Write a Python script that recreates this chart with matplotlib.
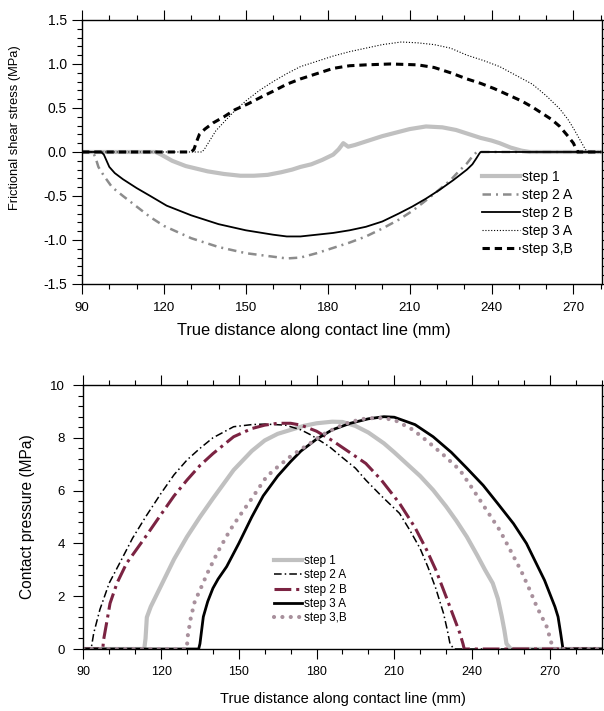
import matplotlib

matplotlib.use("Agg")
import matplotlib.pyplot as plt
from matplotlib.ticker import MultipleLocator, FormatStrFormatter

plt.rcParams["font.family"] = ["Liberation Sans", "DejaVu Sans"]

# ---- top panel: frictional shear stress (MPa) vs distance (mm) ----
t_step1_x = [90, 117, 119, 123, 128, 132, 136, 142, 148, 153, 158, 163, 167, 170, 174, 178, 182, 184,
             185.7, 187.5, 190, 195, 200, 205, 210, 216, 222, 227, 231, 236, 240, 243, 247, 251, 254, 280]
t_step1_y = [0, 0, -0.03, -0.1, -0.16, -0.19, -0.22, -0.25, -0.27, -0.27, -0.26, -0.23, -0.2, -0.17,
             -0.14, -0.09, -0.03, 0.03, 0.1, 0.06, 0.08, 0.13, 0.18, 0.22, 0.26, 0.29, 0.28, 0.25, 0.21,
             0.16, 0.13, 0.1, 0.05, 0.015, 0, 0]

t_step2a_x = [90, 94, 95, 96, 98, 101, 105, 110, 115, 120, 130, 140, 150, 160, 165, 170, 176, 182, 188,
              194, 200, 206, 211, 216, 220, 225, 228, 231, 233, 234.6, 280]
t_step2a_y = [0, 0, -0.07, -0.17, -0.27, -0.4, -0.5, -0.62, -0.74, -0.84, -0.98, -1.08, -1.15, -1.19,
              -1.21, -1.2, -1.15, -1.09, -1.03, -0.96, -0.87, -0.77, -0.67, -0.55, -0.45, -0.32, -0.22,
              -0.13, -0.05, 0, 0]

t_step2b_x = [90, 97, 98, 99, 100, 102, 105, 110, 115, 121, 130, 140, 150, 160, 165, 170, 176, 182, 188,
              194, 200, 206, 211, 216, 221, 226, 231, 233, 234.5, 235.5, 236, 280]
t_step2b_y = [0, 0, -0.03, -0.1, -0.17, -0.24, -0.31, -0.41, -0.5, -0.61, -0.72, -0.82, -0.89, -0.94,
              -0.96, -0.96, -0.94, -0.92, -0.89, -0.85, -0.79, -0.7, -0.62, -0.53, -0.43, -0.32, -0.2,
              -0.14, -0.07, -0.02, 0, 0]

t_step3a_x = [90, 134, 135, 137, 139, 142, 146, 150, 155, 160, 165, 170, 176, 182, 188, 194, 200, 207,
              213, 219, 225, 231, 237, 243, 249, 255, 260, 265, 268, 270, 272, 274, 275, 280]
t_step3a_y = [0, 0, 0.04, 0.14, 0.24, 0.34, 0.47, 0.58, 0.7, 0.8, 0.89, 0.97, 1.03, 1.09, 1.14, 1.18,
              1.22, 1.25, 1.24, 1.22, 1.18, 1.1, 1.04, 0.97, 0.87, 0.77, 0.64, 0.49, 0.37, 0.27, 0.16,
              0.05, 0, 0]

t_step3b_x = [90, 130, 131, 132, 133, 135, 138, 142, 146, 151, 156, 160, 165, 170, 176, 182, 188, 194,
              203, 213, 219, 225, 231, 236, 241, 246, 251, 255, 259, 262, 265, 268, 270, 271.5, 280]
t_step3b_y = [0, 0, 0.03, 0.12, 0.2, 0.26, 0.33, 0.4, 0.48, 0.55, 0.63, 0.69, 0.77, 0.83, 0.89, 0.95,
              0.98, 0.99, 1.0, 0.99, 0.96, 0.9, 0.83, 0.78, 0.72, 0.65, 0.58, 0.51, 0.43, 0.37, 0.29,
              0.18, 0.1, 0, 0]

# ---- bottom panel: contact pressure (MPa) vs distance (mm) ----
b_step1_x = [90, 113.5, 114, 114.5, 116, 118, 121, 125, 130, 135, 140, 148, 155, 160, 165, 170, 175,
             180, 186, 190, 195, 200, 206, 210, 215, 220, 225, 230, 234, 238, 242, 245, 248, 250, 251.5,
             252.5, 253.3, 255, 290]
b_step1_y = [0, 0, 0.4, 1.2, 1.6, 2.0, 2.6, 3.4, 4.25, 5.0, 5.7, 6.78, 7.5, 7.9, 8.15, 8.3, 8.45, 8.55,
             8.61, 8.6, 8.45, 8.2, 7.79, 7.45, 7.0, 6.55, 6.02, 5.4, 4.85, 4.25, 3.55, 3.0, 2.49, 1.9,
             1.22, 0.7, 0.2, 0, 0]

b_step2a_x = [90, 93, 94, 96.4, 100, 104, 109, 114, 120, 125, 130, 135, 140, 148, 155, 160, 168, 174,
              178, 182, 185, 190, 195, 199, 205, 212, 216, 220, 223, 226, 229, 230.5, 231.5, 233, 290]
b_step2a_y = [0, 0, 0.6, 1.5, 2.5, 3.25, 4.2, 5.0, 5.9, 6.6, 7.16, 7.6, 8.0, 8.42, 8.5, 8.52, 8.48, 8.3,
              8.1, 7.85, 7.66, 7.25, 6.85, 6.4, 5.8, 5.14, 4.5, 3.8, 3.1, 2.3, 1.35, 0.7, 0.2, 0, 0]

b_step2b_x = [90, 97.5, 97.8, 99, 100.3, 103, 106.7, 110, 114, 120, 125, 130, 135, 140, 148, 155, 160,
              165, 170, 174, 180, 186, 192, 199, 205, 212, 218, 222.5, 226, 230, 233, 235.3, 236.5, 237,
              290]
b_step2b_y = [0, 0, 0.34, 1.0, 1.73, 2.5, 3.25, 3.7, 4.25, 5.1, 5.8, 6.4, 6.95, 7.4, 8.04, 8.35, 8.48,
              8.55, 8.55, 8.48, 8.25, 7.9, 7.5, 7.03, 6.4, 5.52, 4.6, 3.75, 3.0, 1.98, 1.2, 0.6, 0.2, 0, 0]

b_step3a_x = [90, 134.5, 135, 136.3, 138, 140, 142, 145.3, 150, 155, 159.4, 165, 170, 174, 180, 186,
              193, 200, 206, 210, 218, 225, 232, 238, 244.3, 250, 256, 261, 265, 268, 270, 272, 273.2,
              274.2, 275.1, 290]
b_step3a_y = [0, 0, 0.2, 1.22, 1.8, 2.3, 2.65, 3.12, 4.0, 5.0, 5.8, 6.55, 7.1, 7.5, 7.95, 8.3, 8.55,
              8.72, 8.8, 8.78, 8.5, 8.04, 7.45, 6.85, 6.2, 5.5, 4.75, 4.0, 3.2, 2.6, 2.1, 1.6, 1.22, 0.6,
              0, 0]

b_step3b_x = [90, 129.9, 130.3, 131.5, 133, 135, 138, 142, 146.6, 150, 155, 160.7, 165, 170, 173.6,
              177.5, 182, 188, 193, 199.3, 205, 210, 217.3, 223, 229, 235.3, 240, 245, 250.7, 255, 259,
              262.3, 265, 268.8, 270, 270.7, 271.5, 290]
b_step3b_y = [0, 0, 0.5, 1.2, 1.8, 2.23, 2.9, 3.7, 4.5, 5.0, 5.7, 6.53, 6.9, 7.3, 7.54, 7.79, 8.1, 8.4,
              8.6, 8.74, 8.75, 8.68, 8.3, 7.85, 7.35, 6.78, 6.1, 5.35, 4.5, 3.7, 2.95, 2.23, 1.6, 0.85,
              0.45, 0.2, 0, 0]

x_major = [90, 120, 150, 180, 210, 240, 270]


def style_axes(ax, pad_x, pad_y):
    for side in ax.spines.values():
        side.set_linewidth(1.0)
    ax.tick_params(which="both", direction="out", top=True, right=True, width=0.8)
    ax.tick_params(which="major", length=7.2)
    ax.tick_params(which="minor", length=3.6)
    ax.tick_params(axis="x", pad=pad_x)
    ax.tick_params(axis="y", pad=pad_y)
    ax.set_xticks(x_major)
    ax.xaxis.set_minor_locator(MultipleLocator(10))


fig = plt.figure(figsize=(6.04, 7.11), dpi=100)

# top panel
ax1 = fig.add_axes([0.1358, 0.6006, 0.861, 0.3713])
ax1.plot(t_step1_x, t_step1_y, color="#c0c0c0", lw=3, label="step 1")
ax1.plot(t_step2a_x, t_step2a_y, color="#8c8c8c", lw=1.8, ls=(0, (3.4, 2.0, 0.8, 2.0)), label="step 2 A")
ax1.plot(t_step2b_x, t_step2b_y, color="black", lw=1.3, label="step 2 B")
ax1.plot(t_step3a_x, t_step3a_y, color="black", lw=0.8, ls=(0, (1, 1.6)), label="step 3 A")
ax1.plot(t_step3b_x, t_step3b_y, color="black", lw=2.2, ls=(0, (2.4, 1.6)), label="step 3,B")
ax1.set_xlim(90, 280.5)
ax1.set_ylim(-1.5, 1.5)
ax1.set_yticks([-1.5, -1.0, -0.5, 0.0, 0.5, 1.0, 1.5])
ax1.yaxis.set_major_formatter(FormatStrFormatter("%.1f"))
ax1.yaxis.set_minor_locator(MultipleLocator(0.1))
style_axes(ax1, 5.5, 3.5)
ax1.tick_params(axis="x", labelsize=9.5)
ax1.tick_params(axis="y", labelsize=10)
ax1.set_xlabel("True distance along contact line (mm)", fontsize=11.8, va="top")
ax1.xaxis.set_label_coords(0.446, -0.148)
ax1.set_ylabel("Frictional shear stress (MPa)", fontsize=9.3, va="bottom")
ax1.yaxis.set_label_coords(-0.117, 0.593)
ax1.legend(loc="center left", bbox_to_anchor=(0.77, 0.269), frameon=False, fontsize=10,
           handlelength=2.7, handletextpad=0.15, borderpad=0, borderaxespad=0, labelspacing=0.3)

# bottom panel
ax2 = fig.add_axes([0.138, 0.0872, 0.858, 0.3713])
ax2.plot(b_step1_x, b_step1_y, color="#c0c0c0", lw=3, label="step 1")
ax2.plot(b_step2a_x, b_step2a_y, color="black", lw=1.1, ls=(0, (5.0, 2.0, 1.0, 2.0)), label="step 2 A")
ax2.plot(b_step2b_x, b_step2b_y, color="#7b2342", lw=2.2, ls=(0, (5.5, 1.6, 1.0, 1.6)), label="step 2 B")
ax2.plot(b_step3a_x, b_step3a_y, color="black", lw=2.0, label="step 3 A")
ax2.plot(b_step3b_x, b_step3b_y, color="#a8909c", lw=3, ls=(0, (0.01, 2.0)), dash_capstyle="round",
         label="step 3,B")
ax2.set_xlim(90, 290)
ax2.set_ylim(0, 10)
ax2.set_yticks([0, 2, 4, 6, 8, 10])
ax2.yaxis.set_minor_locator(MultipleLocator(0.4))
style_axes(ax2, 5, 6)
ax2.tick_params(axis="x", labelsize=9)
ax2.tick_params(axis="y", labelsize=9.5)
ax2.set_xlabel("True distance along contact line (mm)", fontsize=10.5, va="top")
ax2.xaxis.set_label_coords(0.5, -0.163)
ax2.set_ylabel("Contact pressure (MPa)", fontsize=11.2, va="bottom")
ax2.yaxis.set_label_coords(-0.093, 0.5)
ax2.legend(loc="center left", bbox_to_anchor=(0.368, 0.225), frameon=False, fontsize=8.4,
           handlelength=2.4, handletextpad=0.2, borderpad=0, borderaxespad=0, labelspacing=0.2)

fig.savefig("out.png", dpi=100)
